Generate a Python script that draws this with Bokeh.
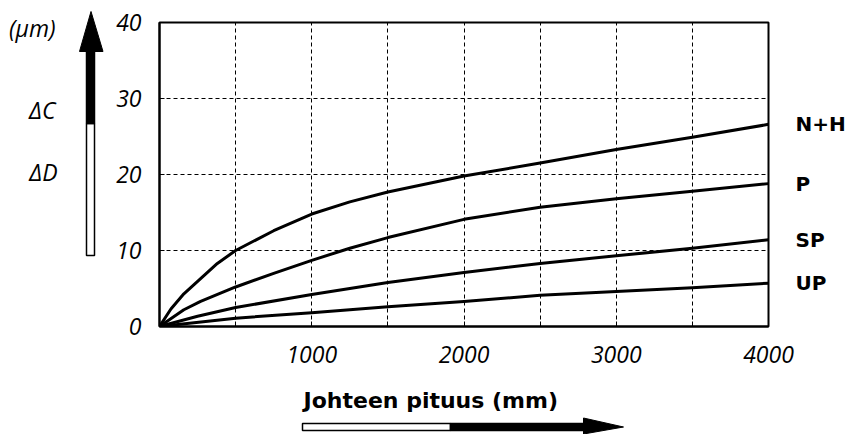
from bokeh.plotting import figure
from bokeh.models import FixedTicker, Range1d, LinearAxis
from bokeh.layouts import row, column
from bokeh.core.properties import value
from bokeh.embed import file_html
from bokeh.resources import INLINE

# ---- data ----
x_nh = [0, 75, 160, 270, 380, 500, 750, 1000, 1250, 1500, 2000, 2500, 3000, 3500, 4000]
y_nh = [0, 2.3, 4.3, 6.3, 8.3, 10.0, 12.6, 14.8, 16.4, 17.7, 19.8, 21.5, 23.3, 24.9, 26.6]
x_p = [0, 160, 270, 500, 750, 1000, 1250, 1500, 2000, 2500, 3000, 3500, 4000]
y_p = [0, 2.2, 3.3, 5.2, 7.0, 8.7, 10.3, 11.7, 14.1, 15.7, 16.8, 17.8, 18.8]
x_sp = [0, 250, 500, 1000, 1500, 2000, 2500, 3000, 3500, 4000]
y_sp = [0, 1.35, 2.5, 4.2, 5.8, 7.1, 8.3, 9.3, 10.3, 11.4]
x_up = [0, 500, 1000, 1500, 2000, 2500, 3000, 3500, 4000]
y_up = [0, 1.1, 1.8, 2.6, 3.3, 4.1, 4.6, 5.1, 5.7]
series_names = ["N+H", "P", "SP", "UP"]
x_ticks = [1000, 2000, 3000, 4000]
x_minor = [0, 500, 1500, 2500, 3500]
y_ticks = [0, 10, 20, 30, 40]
x_title = "Johteen pituus (mm)"
y_unit = "(µm)"
y_names = ["ΔC", "ΔD"]

TOTAL_W, TOTAL_H = 850, 434
LW = 108          # left decoration column
MW, MH = TOTAL_W - LW, 384
BH = TOTAL_H - MH
FRAME_L, FRAME_R = 159, 768   # page x of the main frame (bottom strip aligns to it)

# ---------------- main chart ----------------
p = figure(width=MW, height=MH, output_backend="svg", toolbar_location=None,
           x_range=Range1d(0, 4000), y_range=Range1d(0, 40),
           min_border_left=FRAME_L - LW, min_border_right=TOTAL_W - FRAME_R,
           min_border_top=22, min_border_bottom=58)
p.background_fill_color = "white"
p.border_fill_color = "white"
p.outline_line_color = "black"
p.outline_line_width = 2

series = [(x_nh, y_nh), (x_p, y_p), (x_sp, y_sp), (x_up, y_up)]
for xs, ys in series:
    p.line(xs, ys, line_color="black", line_width=3, line_join="round")

p.xaxis.ticker = FixedTicker(ticks=x_ticks, minor_ticks=x_minor)
p.yaxis.ticker = FixedTicker(ticks=y_ticks)
for ax in (p.xaxis[0], p.yaxis[0]):
    ax.axis_line_width = 2
    ax.axis_line_color = "black"
    ax.major_tick_in = 5
    ax.major_tick_out = 0
    ax.minor_tick_in = 5
    ax.minor_tick_out = 0
    ax.major_tick_line_color = "black"
    ax.minor_tick_line_color = "black"
    ax.major_label_text_font = "Open Sans"
    ax.major_label_text_font_style = "italic"
    ax.major_label_text_font_size = "23px"
    ax.major_label_text_color = "black"
p.yaxis.major_label_standoff = 18
p.xaxis.major_label_standoff = 19

# series names as labels of a right-hand axis, placed at each curve's end value
ends = [s[1][-1] for s in series]
name_axis = LinearAxis(ticker=FixedTicker(ticks=ends),
                       major_label_overrides={v: n for v, n in zip(ends, series_names)},
                       axis_line_color=None, major_tick_line_color=None,
                       minor_tick_line_color=None, major_label_standoff=21,
                       major_label_text_font="DejaVu Sans",
                       major_label_text_font_style="bold",
                       major_label_text_font_size="20px",
                       major_label_text_color="black")
p.add_layout(name_axis, "right")

p.xgrid.grid_line_color = "black"
p.xgrid.grid_line_dash = "4 3"
p.xgrid.grid_line_width = 1
p.xgrid.minor_grid_line_color = "black"
p.xgrid.minor_grid_line_dash = "4 3"
p.ygrid.grid_line_color = "black"
p.ygrid.grid_line_dash = "4 3"
p.ygrid.grid_line_width = 1


def deco_fig(w, h, x0, x1):
    f = figure(width=w, height=h, output_backend="svg", toolbar_location=None,
               x_range=Range1d(x0, x1), y_range=Range1d(h, 0),
               x_axis_type=None, y_axis_type=None,
               min_border=0, min_border_left=0, min_border_right=0,
               min_border_top=0, min_border_bottom=0)
    f.grid.visible = False
    f.outline_line_color = None
    f.background_fill_color = "white"
    f.border_fill_color = "white"
    return f

# ---------------- left decoration: unit, symbols, vertical arrow ----------------
left = deco_fig(LW, TOTAL_H, 0, LW)
left.text(x=[55, 55, 57], y=[27, 109, 171], text=[y_unit] + y_names,
          text_font=value("Open Sans"), text_font_style="italic",
          text_font_size="23px", text_align="right", text_baseline="middle",
          text_color="black")
left.quad(left=[86], right=[94], top=[123], bottom=[255],
          fill_color="white", line_color="black", line_width=1.5)
left.quad(left=[86], right=[94], top=[50], bottom=[123],
          fill_color="black", line_color="black", line_width=1.5)
left.patch(x=[90.5, 79, 102.5], y=[11, 51, 51], fill_color="black", line_color="black")

# ---------------- bottom decoration: axis title and horizontal arrow ----------------
# x in page pixels (this strip's frame is aligned with the main frame)
bottom = deco_fig(MW, BH, FRAME_L, FRAME_R)
bottom.text(x=[303], y=[16], text=[x_title], text_font=value("DejaVu Sans"),
            text_font_style="bold", text_font_size="22px", text_align="left",
            text_baseline="middle", text_color="black")
bottom.quad(left=[302], right=[450], top=[39], bottom=[46],
            fill_color="white", line_color="black", line_width=1.5)
bottom.quad(left=[450], right=[584], top=[39], bottom=[46],
            fill_color="black", line_color="black", line_width=1.5)
bottom.patch(x=[583, 583, 623], y=[33.5, 49.5, 42.5], fill_color="black", line_color="black")

layout = row(left, column(p, bottom, spacing=0), spacing=0)
open("out.html", "w").write(file_html(layout, INLINE))
